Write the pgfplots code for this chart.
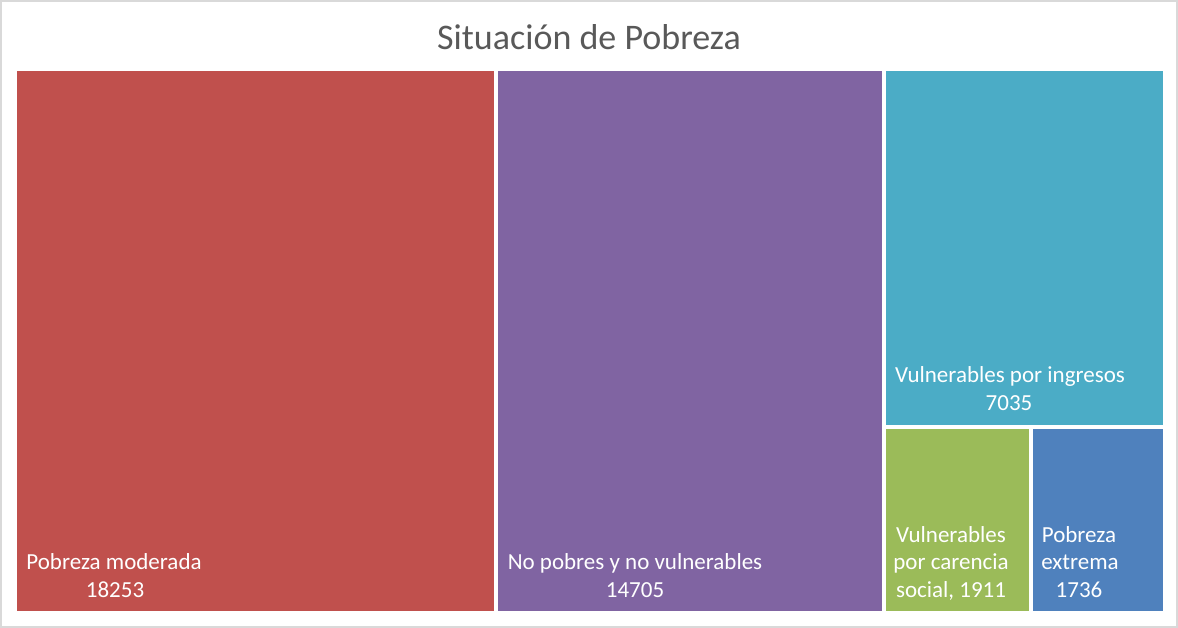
\documentclass[border=0pt]{standalone}
\usepackage{pgfplots}
\pgfplotsset{compat=1.18}
\usepackage{fontspec}
\setmainfont{Carlito}
\definecolor{cRed}{HTML}{C0504D}
\definecolor{cPurple}{HTML}{8064A2}
\definecolor{cTeal}{HTML}{4BACC6}
\definecolor{cGreen}{HTML}{9BBB59}
\definecolor{cBlue}{HTML}{4F81BD}
\definecolor{cTitle}{HTML}{595959}
\definecolor{cFrame}{HTML}{D9D9D9}
\begin{document}
\begin{tikzpicture}[x=1pt,y=1pt]
\useasboundingbox (0,0) rectangle (1178,628);
\draw[cFrame, line width=1.5pt] (1,1) rectangle (1177,627);

% treemap: x in units of the values (total 43640), y from 0 to 1
% 18253 | 14705 | (7035 over 1911 + 1736)
\begin{axis}[
  at={(15pt,15pt)}, anchor=south west,
  scale only axis, width=1150pt, height=544pt,
  xmin=0, xmax=43640, ymin=0, ymax=1,
  hide axis, clip=false,
  every axis plot/.append style={draw=white, line width=4pt},
]
% Pobreza moderada 18253
\addplot[fill=cRed] coordinates {(0,0) (18253,0) (18253,1) (0,1)} -- cycle;
% No pobres y no vulnerables 14705
\addplot[fill=cPurple] coordinates {(18253,0) (32958,0) (32958,1) (18253,1)} -- cycle;
% Vulnerables por ingresos 7035 (column width 10682, height 7035/10682)
\addplot[fill=cTeal] coordinates {(32958,0.3414) (43640,0.3414) (43640,1) (32958,1)} -- cycle;
% Vulnerables por carencia social 1911
\addplot[fill=cGreen] coordinates {(32958,0) (38555,0) (38555,0.3414) (32958,0.3414)} -- cycle;
% Pobreza extrema 1736
\addplot[fill=cBlue] coordinates {(38555,0) (43640,0) (43640,0.3414) (38555,0.3414)} -- cycle;
\end{axis}

\node[text=cTitle, font=\fontsize{36}{42}\selectfont, anchor=base] at (589,578) {Situación de Pobreza};

\begin{scope}[every node/.style={text=white, font=\fontsize{23}{27}\selectfont, anchor=base, inner sep=0pt}]
\node at (114,58) {Pobreza moderada};
\node at (115,30) {18253};
\node at (635,58) {No pobres y no vulnerables};
\node at (635,30) {14705};
\node at (1010,245) {Vulnerables por ingresos};
\node at (1009,217) {7035};
\node at (951,85) {Vulnerables};
\node at (951,58) {por carencia};
\node at (951,30) {social, 1911};
\node at (1079,85) {Pobreza};
\node at (1080,58) {extrema};
\node at (1079,30) {1736};
\end{scope}
\end{tikzpicture}
\end{document}
